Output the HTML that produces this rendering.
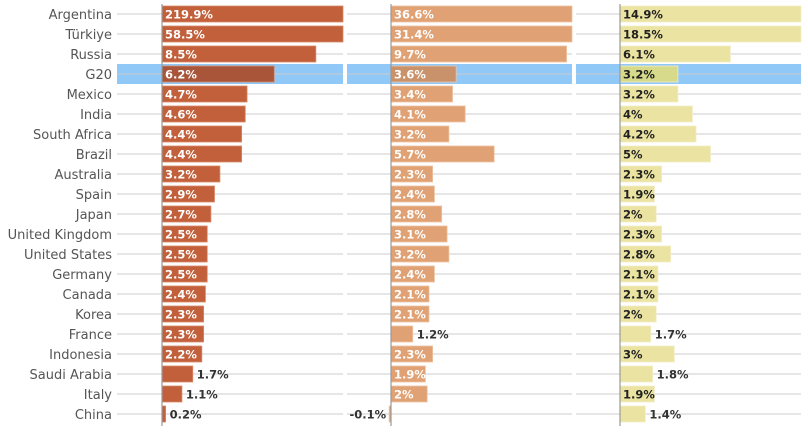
<!DOCTYPE html>
<html><head><meta charset="utf-8">
<style>
body{margin:0;background:#fff;width:808px;height:431px;overflow:hidden;font-family:"Liberation Sans","DejaVu Sans",sans-serif;}
svg text{font-family:"DejaVu Sans","Liberation Sans",sans-serif;}
</style></head><body>
<svg id="c" width="808" height="431"></svg>
<script>
const countries=["Argentina","Türkiye","Russia","G20","Mexico","India","South Africa","Brazil","Australia","Spain","Japan","United Kingdom","United States","Germany","Canada","Korea","France","Indonesia","Saudi Arabia","Italy","China"];
const series1=[219.9,58.5,8.5,6.2,4.7,4.6,4.4,4.4,3.2,2.9,2.7,2.5,2.5,2.5,2.4,2.3,2.3,2.2,1.7,1.1,0.2];
const series2=[36.6,31.4,9.7,3.6,3.4,4.1,3.2,5.7,2.3,2.4,2.8,3.1,3.2,2.4,2.1,2.1,1.2,2.3,1.9,2,-0.1];
const series3=[14.9,18.5,6.1,3.2,3.2,4,4.2,5,2.3,1.9,2,2.3,2.8,2.1,2.1,2,1.7,3,1.8,1.9,1.4];
const NS="http://www.w3.org/2000/svg";
const svg=document.getElementById('c');
function mk(t,a,p){const e=document.createElementNS(NS,t);for(const k in a)e.setAttribute(k,a[k]);(p||svg).appendChild(e);return e;}
const y=i=>14+i*20;
const panels=[
 {data:series1,axis:162,left:117,right:343,fill:"#c2603b",stroke:"#d98a6a",hl:"#a8553a",txt:"#fff",name:"panel-2022"},
 {data:series2,axis:391,left:347,right:572,fill:"#e0a274",stroke:"#eec3a3",hl:"#c9926a",txt:"#fff",name:"panel-2023"},
 {data:series3,axis:620,left:576,right:801,fill:"#ebe3a1",stroke:"#f3edc6",hl:"#d6da8a",txt:"#222",name:"panel-2024"}];
const scale=18.1, maxV=10;
const g20=countries.indexOf("G20");
countries.forEach((c,i)=>{
  const t=mk('text',{x:112,y:y(i)+5,'text-anchor':'end','font-size':13,fill:'#555'});
  t.textContent=c;
  
  
});
panels.forEach(p=>{
  const g=mk('g',{});
  
  
  const hb=mk('rect',{x:p.left,y:y(g20)-10,width:p.right-p.left,height:20,fill:'#90c8f8'},g);
  
  
  countries.forEach((c,i)=>{
    const l=mk('line',{x1:p.left,x2:p.right,y1:y(i),y2:y(i),stroke:'#cccccc','stroke-width':1},g);
    
    
  });
  countries.forEach((c,i)=>{
    const v=p.data[i];
    const cv=Math.max(-maxV,Math.min(maxV,v));
    const w=Math.abs(cv)*scale;
    const x0=cv>=0?p.axis:p.axis-w;
    const r=mk('rect',{x:x0,y:y(i)-8,width:Math.max(w,1),height:16,fill:i===g20?p.hl:p.fill,stroke:p.stroke,'stroke-width':0.8},g);
    
    
    const inside=v>=1.85;
    let tx,anchor,col;
    if(inside){tx=p.axis+3;anchor='start';col=p.txt;}
    else if(v>=0){tx=p.axis+w+4;anchor='start';col='#333';}
    else{tx=p.axis-w-3;anchor='end';col='#333';}
    const t=mk('text',{x:tx,y:y(i)+4.5,'text-anchor':anchor,'font-size':11.5,'font-weight':'bold',fill:col},g);
    t.textContent=v+'%';
    
    
  });
  const ax=mk('line',{x1:p.axis,x2:p.axis,y1:4,y2:426,stroke:'#999','stroke-width':1.2},g);
  
  
});
</script>
</body></html>
